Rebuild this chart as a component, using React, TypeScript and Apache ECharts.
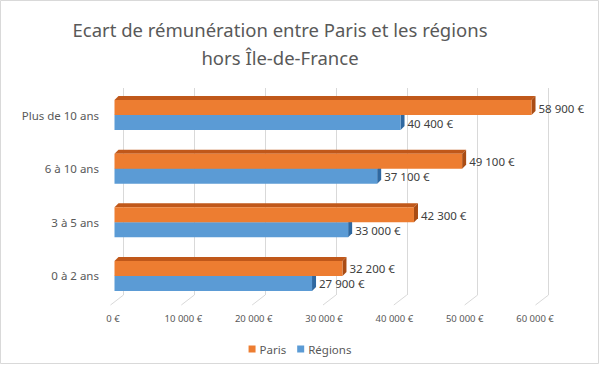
import React, { useEffect, useRef } from "react";
import * as echarts from "echarts";

const categories = ["0 à 2 ans", "3 à 5 ans", "6 à 10 ans", "Plus de 10 ans"];
const parisValues = [32200, 42300, 49100, 58900];
const regionsValues = [27900, 33000, 37100, 40400];
const xTicks = [0, 10000, 20000, 30000, 40000, 50000, 60000];
const titleText = "Ecart de rémunération entre Paris et les régions\nhors Île-de-France";
const seriesNames = ["Paris", "Régions"];

const FONT = '"Noto Sans", sans-serif';

const fmt = (v: number) =>
  v < 1000 ? `${v} €` : `${Math.floor(v / 1000)} ${String(v % 1000).padStart(3, "0")} €`;

type Colors = { front: string; top: string; side: string };
const orange: Colors = { front: "#ED7D31", top: "#C0581A", side: "#A94C14" };
const blue: Colors = { front: "#5B9BD5", top: "#3F78B0", side: "#2F68A0" };

function makeRender(isUpper: boolean, c: Colors) {
  return (params: any, api: any) => {
    const v = api.value(0);
    const cat = api.value(1);
    const end = api.coord([v, cat]);
    const start = api.coord([0, cat]);
    const h = 15;
    const d = 4;
    const yc = end[1];
    const top = isUpper ? yc - h : yc;
    const bottom = top + h;
    const x0 = start[0];
    const x1 = end[0];
    return {
      type: "group",
      children: [
        {
          type: "polygon",
          shape: { points: [[x0, top], [x0 + d, top - d], [x1 + d, top - d], [x1, top]] },
          style: { fill: c.top },
        },
        {
          type: "polygon",
          shape: { points: [[x1, top], [x1 + d, top - d], [x1 + d, bottom - d], [x1, bottom]] },
          style: { fill: c.side },
        },
        {
          type: "rect",
          shape: { x: x0, y: top, width: x1 - x0, height: h },
          style: { fill: c.front },
        },
        {
          type: "text",
          x: x1 + d + 3,
          y: (top + bottom) / 2 + 0.5,
          style: {
            text: fmt(v),
            fill: "#404040",
            font: `11.5px ${FONT}`,
            verticalAlign: "middle",
            align: "left",
          },
        },
      ],
    };
  };
}

export default function App() {
  const ref = useRef<HTMLDivElement>(null);
  useEffect(() => {
    if (!ref.current) return;
    const chart = echarts.init(ref.current, undefined, { renderer: "svg" });
    chart.setOption({
      animation: false,
      backgroundColor: "#ffffff",
      title: {
        text: titleText,
        left: 275,
        top: 10,
        textAlign: "center",
        textStyle: {
          fontFamily: FONT,
          fontSize: 18.5,
          fontWeight: "normal",
          color: "#595959",
          lineHeight: 28,
        },
      },
      legend: {
        data: seriesNames,
        left: "center",
        top: 338,
        icon: "rect",
        itemWidth: 7,
        itemHeight: 7,
        itemGap: 11,
        textStyle: { fontFamily: FONT, fontSize: 11.5, color: "#595959", padding: [0, 0, 0, -1] },
      },
      graphic: [
        {
          type: "rect",
          shape: { x: 0.5, y: 0.5, width: 598, height: 363 },
          style: { fill: "none", stroke: "#D9D9D9", lineWidth: 1 },
          silent: true,
        },
      ],
      grid: [
        { left: 114.5, top: 88.25, width: 424.8, height: 214.5 },
        { left: 123.5, top: 88, width: 425, height: 207 },
        { left: 113, top: 304, width: 422, height: 1 },
      ],
      xAxis: [
        { gridIndex: 0, type: "value", min: 0, max: 60000, interval: 10000, show: false },
        {
          gridIndex: 1,
          type: "value",
          min: 0,
          max: 60000,
          interval: 10000,
          axisLine: { show: false },
          axisTick: { show: false },
          axisLabel: { show: false },
          splitLine: { show: true, lineStyle: { color: "#D9D9D9", width: 1 } },
        },
        {
          gridIndex: 2,
          type: "value",
          min: 0,
          max: 60000,
          interval: 10000,
          axisLine: { show: false },
          axisTick: { show: false },
          splitLine: { show: false },
          axisLabel: {
            formatter: (v: number) => fmt(v),
            fontFamily: FONT,
            fontSize: 9.5,
            color: "#595959",
            margin: 8,
          },
        },
      ],
      yAxis: [
        {
          gridIndex: 0,
          type: "category",
          data: categories,
          axisLine: { show: false },
          axisTick: { show: false },
          splitLine: { show: false },
          axisLabel: {
            fontFamily: FONT,
            fontSize: 11.5,
            color: "#595959",
            margin: 15.5,
            padding: [6, 0, 0, 0],
          },
        },
        { gridIndex: 1, type: "value", min: 0, max: 1, show: false },
        { gridIndex: 2, type: "value", min: 0, max: 1, show: false },
      ],
      series: [
        {
          type: "custom",
          name: "floor",
          xAxisIndex: 1,
          yAxisIndex: 1,
          silent: true,
          data: xTicks.map((v) => [v, 0]),
          encode: { x: 0, y: 1 },
          renderItem: (params: any, api: any) => {
            const p = api.coord([api.value(0), 0]);
            return {
              type: "line",
              shape: { x1: p[0], y1: p[1], x2: p[0] - 13, y2: p[1] + 10 },
              style: { stroke: "#D9D9D9", lineWidth: 1 },
            };
          },
        },
        {
          type: "custom",
          name: seriesNames[1],
          xAxisIndex: 0,
          yAxisIndex: 0,
          itemStyle: { color: blue.front },
          data: regionsValues.map((v, i) => [v, i]),
          encode: { x: 0, y: 1 },
          renderItem: makeRender(false, blue),
        },
        {
          type: "custom",
          name: seriesNames[0],
          xAxisIndex: 0,
          yAxisIndex: 0,
          itemStyle: { color: orange.front },
          data: parisValues.map((v, i) => [v, i]),
          encode: { x: 0, y: 1 },
          renderItem: makeRender(true, orange),
        },
      ],
    });
    return () => chart.dispose();
  }, []);
  return (
    <div
      ref={ref}
      style={{ position: "fixed", left: 0, top: 0, width: 600, height: 367, background: "#fff" }}
    />
  );
}
